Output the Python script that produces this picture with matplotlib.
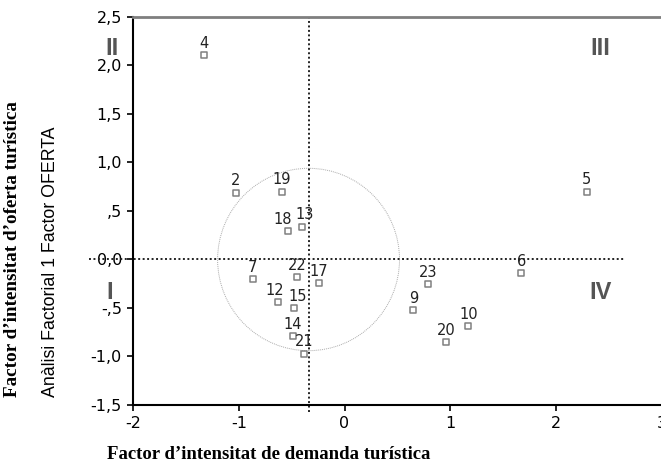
import matplotlib
matplotlib.use("Agg")
import matplotlib.pyplot as plt
from matplotlib.patches import Ellipse

# municipalities: demand factor (x) vs supply factor (y)
labels = ["4", "2", "19", "18", "13", "5", "7", "22", "17", "12", "15",
          "14", "21", "6", "23", "9", "10", "20"]
demanda = [-1.33, -1.03, -0.59, -0.53, -0.40, 2.29, -0.87, -0.45, -0.24,
           -0.63, -0.48, -0.49, -0.38, 1.67, 0.79, 0.65, 1.17, 0.96]
oferta = [2.11, 0.69, 0.70, 0.29, 0.33, 0.70, -0.20, -0.18, -0.24,
          -0.44, -0.50, -0.79, -0.97, -0.14, -0.25, -0.52, -0.69, -0.85]

mean_x = -0.34
xticks = [-2, -1, 0, 1, 2, 3]
yticks = [2.5, 2.0, 1.5, 1.0, 0.5, 0.0, -0.5, -1.0, -1.5]
ytick_labels = ["2,5", "2,0", "1,5", "1,0", ",5", "0,0", "-,5", "-1,0", "-1,5"]
quad_names = ["II", "III", "I", "IV"]
quad_x = [-2.2, 2.42, -2.22, 2.42]
quad_y = [2.175, 2.175, -0.34, -0.34]

# small label nudges (points) where numbers crowd together
nudge = {"18": (-4, 0), "13": (2, 1), "15": (3, 0), "12": (-2, 0)}

fig = plt.figure(figsize=(6.61, 4.63), dpi=100)
ax = fig.add_axes([0.2012, 0.1253, 0.8, 0.838])
ax.set_xlim(-2, 3)
ax.set_ylim(-1.5, 2.5)

ax.scatter(demanda, oferta, marker="s", s=20, facecolors="white",
           edgecolors="#808080", linewidths=1.1, zorder=3)
for lab, x, y in zip(labels, demanda, oferta):
    dx, dy = nudge.get(lab, (0, 0))
    ax.annotate(lab, (x, y), xytext=(dx, 3 + dy), textcoords="offset points",
                ha="center", va="bottom", fontsize=10.5, color="#222222",
                family="DejaVu Sans", zorder=4)

# reference lines and circle
ax.plot([mean_x, mean_x], [-1.57, 2.5], ls=(0, (1, 1.3)), color="#222222",
        lw=1.4, clip_on=False)
ax.plot([-2.42, 2.65], [0, 0], ls=(0, (1, 1.3)), color="#222222",
        lw=1.4, clip_on=False, zorder=2)
ax.add_patch(Ellipse((mean_x, 0), 1.72, 1.88, fill=False, ls=(0, (1, 1)),
                     edgecolor="#aaaaaa", lw=0.7))

for txt, x, y in zip(quad_names, quad_x, quad_y):
    ax.text(x, y, txt, ha="center", va="center", fontsize=17,
            fontweight="bold", color="#555555", family="Liberation Sans",
            clip_on=False)

ax.set_xticks(xticks)
ax.set_xticklabels([str(t) for t in xticks])
ax.set_yticks(yticks)
ax.set_yticklabels(ytick_labels)
ax.tick_params(direction="out", length=4, width=1.2, labelsize=11.5,
               colors="black", pad=4)
for t in ax.get_xticklabels() + ax.get_yticklabels():
    t.set_family("DejaVu Sans")

ax.spines["right"].set_visible(False)
ax.spines["top"].set_color("#7f7f7f")
ax.spines["top"].set_linewidth(2)
ax.spines["left"].set_linewidth(1.5)
ax.spines["bottom"].set_linewidth(1.5)

fig.text(0.019, 0.462, "Factor d\u2019intensitat d\u2019oferta tur\u00edstica",
         rotation=90, ha="center", va="center", fontsize=13.8,
         fontweight="bold", family="Liberation Serif")
fig.text(0.077, 0.434, "An\u00e0lisi Factorial 1 Factor OFERTA", rotation=90,
         ha="center", va="center", fontsize=12.8,
         family=["Liberation Sans Narrow", "Liberation Sans"])
fig.text(0.406, 0.019, "Factor d\u2019intensitat de demanda tur\u00edstica",
         ha="center", va="center", fontsize=13.5, fontweight="bold",
         family="Liberation Serif")

fig.savefig("out.png", dpi=100)
